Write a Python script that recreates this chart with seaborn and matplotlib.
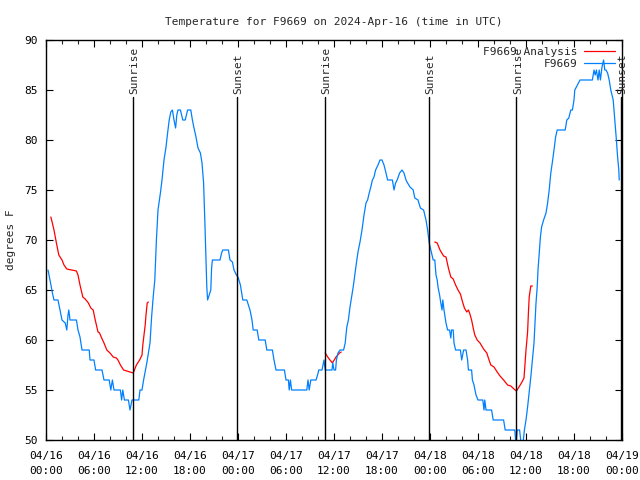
import pandas as pd
import matplotlib
matplotlib.use('Agg')
import matplotlib.pyplot as plt
import matplotlib.dates as mdates
from matplotlib.lines import Line2D
import seaborn as sns

start = pd.Timestamp('2024-04-16 00:00')

# observed temperature (hours since 04/16 00:00 UTC, degrees F)
obs_hours = [0.25, 0.5, 0.8, 1.0, 1.5, 1.75, 2.0, 2.4, 2.6, 2.75, 2.85, 3.0, 3.8, 4.0, 4.25, 4.5, 5.4, 5.5, 6.0, 6.2,
             7.0, 7.25, 7.9, 8.1, 8.3, 8.5, 9.3, 9.45, 9.6, 9.8, 10.3, 10.5, 10.75, 11.6, 11.75, 12.0, 12.2, 12.6, 13.0, 13.2,
             13.4, 13.6, 13.8, 14.0, 14.3, 14.5, 14.75, 15.0, 15.2, 15.4, 15.6, 15.8, 16.0, 16.2, 16.35, 16.5, 16.8, 17.1, 17.4, 17.7,
             18.1, 18.3, 18.5, 18.75, 19.0, 19.3, 19.5, 19.7, 19.85, 20.0, 20.1, 20.2, 20.4, 20.6, 20.7, 20.8, 21.75, 21.95, 22.1, 22.8,
             23.0, 23.3, 23.5, 23.8, 24.0, 24.3, 24.5, 24.6, 25.1, 25.3, 25.5, 25.75, 25.9, 26.4, 26.6, 27.4, 27.6, 28.3, 28.5, 28.75,
             29.8, 30.0, 30.3, 30.4, 30.55, 30.7, 32.6, 32.75, 32.9, 33.1, 33.75, 33.95, 34.1, 34.5, 34.75, 34.9, 35.75, 35.85, 36.0, 36.2,
             36.3, 36.5, 36.75, 37.2, 37.4, 37.6, 37.8, 38.0, 38.2, 38.4, 38.6, 38.8, 39.0, 39.25, 39.5, 39.75, 40.0, 40.2, 40.4, 40.6,
             40.8, 41.0, 41.2, 41.5, 41.75, 42.0, 42.25, 42.5, 42.7, 43.3, 43.5, 43.7, 43.9, 44.2, 44.5, 44.75, 45.0, 45.2, 45.5, 45.9,
             46.1, 46.5, 46.8, 47.2, 47.5, 47.7, 47.9, 48.2, 48.4, 48.6, 48.75, 48.9, 49.0, 49.2, 49.35, 49.5, 49.6, 49.75, 50.0, 50.2,
             50.45, 50.6, 50.7, 50.9, 51.0, 51.2, 51.8, 51.96, 52.2, 52.5, 52.7, 52.8, 53.2, 53.3, 53.5, 53.75, 54.0, 54.6, 54.75, 54.85,
             55.0, 55.7, 55.9, 57.2, 57.4, 58.6, 58.75, 58.9, 59.2, 59.4, 59.6, 59.8, 60.0, 60.2, 60.4, 60.6, 60.8, 61.0, 61.1, 61.25,
             61.4, 61.5, 61.65, 61.8, 61.95, 62.2, 62.5, 62.7, 62.9, 63.1, 63.3, 63.5, 63.7, 63.9, 64.9, 65.1, 65.35, 65.6, 65.8, 66.0,
             66.1, 66.75, 68.3, 68.5, 68.65, 68.8, 69.0, 69.15, 69.3, 69.5, 69.7, 69.85, 70.0, 70.2, 70.4, 70.6, 70.9, 71.1, 71.3, 71.45,
             71.6, 71.65]
obs_temps = [67, 66, 64.7, 64, 64, 63, 62, 61.7, 61, 62.5, 63, 62, 62, 61, 60.3, 59, 59, 58, 58, 57,
             57, 56, 56, 55, 56, 55, 55, 54, 55, 54, 54, 53, 54, 54, 55, 55, 56, 57.7, 59.7, 62.3,
             64.3, 66, 70, 73, 74.7, 76, 78, 79.3, 80.7, 82, 82.8, 83, 82, 81.2, 82.5, 83, 83, 82, 82, 83,
             83, 82, 81.2, 80.3, 79.2, 78.7, 77.7, 75.7, 72, 67.8, 65.3, 64, 64.5, 65, 67.2, 68, 68, 68.7, 69, 69,
             68, 67.8, 67, 66.5, 66.3, 65.5, 64.5, 64, 64, 63.5, 63, 62, 61, 61, 60, 60, 59, 59, 58, 57,
             57, 56, 56, 55, 56, 55, 55, 56, 55, 56, 56, 56.5, 57, 57, 58, 57, 57, 57.7, 57, 57,
             58, 58.7, 59, 59, 59.7, 61.3, 62, 63.3, 64.3, 65.3, 66.5, 67.7, 68.8, 69.8, 71, 72.5, 73.7, 74, 74.7, 75.3,
             76, 76.3, 77, 77.5, 78, 78, 77.5, 76.7, 76, 76, 75, 75.7, 76, 76.7, 77, 76.7, 76, 75.7, 75.3, 75,
             74.2, 74, 73.2, 73, 72, 71, 69.7, 68.7, 68, 68, 66.5, 66, 65.3, 64.5, 63.7, 63, 64, 63, 61.7, 61,
             61, 60.2, 61, 61, 59.7, 59, 59, 58, 59, 59, 58, 57, 57, 56, 55.5, 54.5, 54, 54, 53, 54,
             53, 53, 52, 52, 51, 51, 49.5, 51, 51, 49.5, 49.5, 51, 52, 53.3, 54.8, 56.3, 58, 59.7, 61.3, 63.7,
             65.3, 67, 68.7, 70.3, 71.3, 72, 72.7, 73.7, 75, 76.7, 77.8, 79, 80.3, 81, 81, 82, 82.2, 83, 83, 84,
             85, 86, 86, 87, 86.5, 87, 86, 87, 86, 87.3, 88, 87, 87, 86.7, 86, 85, 84, 82, 80, 78.3,
             77, 76]

# analysis series, three separate runs
ana1_hours = [0.6, 0.7, 1.0, 1.3, 1.6, 2.0, 2.25, 2.6, 3.2, 3.8, 4.0, 4.25, 4.6, 4.9, 5.3, 5.6, 5.9, 6.1, 6.3, 6.5,
              6.7, 6.9, 7.25, 7.6, 8.0, 8.4, 8.8, 9.0, 9.3, 9.7, 10.1, 10.5, 10.9, 11.3, 11.7, 12.0, 12.1, 12.25, 12.4, 12.5,
              12.65, 12.8]
ana1_temps = [72.3, 72, 71, 69.7, 68.5, 68, 67.5, 67.1, 67, 66.9, 66.5, 65.5, 64.3, 64.1, 63.7, 63.2, 63, 62.2, 61.5, 60.8,
              60.7, 60.3, 59.7, 59, 58.7, 58.3, 58.2, 58, 57.5, 57, 56.9, 56.8, 56.7, 57.5, 58, 58.5, 59.5, 60.5, 61.5, 62.5,
              63.7, 63.8]
ana2_hours = [34.9, 35.3, 35.8, 36.25, 36.7, 36.9]
ana2_temps = [58.7, 58.2, 57.7, 58.3, 58.7, 58.8]
ana3_hours = [48.6, 48.9, 49.25, 49.7, 50.0, 50.3, 50.6, 50.9, 51.2, 51.5, 51.8, 52.0, 52.3, 52.6, 52.8, 52.95, 53.2, 53.4, 53.6, 53.9,
              54.25, 54.7, 55.1, 55.3, 55.6, 56.0, 56.4, 56.75, 57.2, 57.7, 58.1, 58.5, 58.8, 59.2, 59.5, 59.75, 59.85, 60.0, 60.2, 60.3,
              60.4, 60.6, 60.8]
ana3_temps = [69.8, 69.7, 69, 68.4, 68.3, 67.2, 66.3, 66.1, 65.5, 65, 64.6, 64, 63.2, 62.8, 63, 62.7, 62, 61.2, 60.5, 60,
              59.7, 59.1, 58.7, 58.2, 57.5, 57.3, 56.8, 56.4, 56, 55.5, 55.4, 55.1, 54.9, 55.4, 55.8, 56.2, 57.3, 59, 60.8, 62.7,
              64.3, 65.4, 65.4]

sun_times = ['2024-04-16 10:52', '2024-04-16 23:52', '2024-04-17 10:52',
             '2024-04-17 23:52', '2024-04-18 10:48', '2024-04-18 23:52']
sun_labels = ['Sunrise', 'Sunset', 'Sunrise', 'Sunset', 'Sunrise', 'Sunset']

obs = pd.DataFrame({'time': start + pd.to_timedelta(obs_hours, unit='h'), 'temp': obs_temps})
ana = pd.concat([
    pd.DataFrame({'time': start + pd.to_timedelta(h, unit='h'), 'temp': t, 'seg': i})
    for i, (h, t) in enumerate([(ana1_hours, ana1_temps), (ana2_hours, ana2_temps), (ana3_hours, ana3_temps)])
])

sns.set_style('ticks')
plt.rcParams['font.family'] = ['DejaVu Sans Mono']
plt.rcParams['font.size'] = 8

red = '#ff0000'
blue = '#0080ff'

fig = plt.figure(figsize=(6.4, 4.8), dpi=100)
ax = fig.add_axes([46 / 640, 40 / 480, 576 / 640, 400 / 480])

sns.lineplot(data=ana, x='time', y='temp', units='seg', estimator=None, color=red, lw=0.9, ax=ax, legend=False)
sns.lineplot(data=obs, x='time', y='temp', color=blue, lw=0.9, ax=ax, legend=False)

for t, lab in zip(sun_times, sun_labels):
    ts = pd.Timestamp(t)
    ax.axvline(ts, ymin=0, ymax=(84.3 - 50) / 40, color='black', lw=1)
    ax.text(ts + pd.Timedelta(minutes=12), 84.6, lab, rotation=90, ha='center', va='bottom', fontsize=8)

ax.set_xlim(start, start + pd.Timedelta(hours=72))
ax.set_ylim(50, 90)
ax.set_yticks(range(50, 91, 5))
ax.xaxis.set_major_locator(mdates.HourLocator(byhour=[0, 6, 12, 18]))
ax.xaxis.set_minor_locator(mdates.HourLocator(interval=2))
ax.xaxis.set_major_formatter(mdates.DateFormatter('%m/%d\n%H:%M'))
ax.tick_params(which='major', direction='in', length=5, width=0.8, top=True, right=True, labelsize=8, pad=6, colors='black')
ax.tick_params(axis='x', which='major', pad=8)
ax.tick_params(which='minor', direction='in', length=3, width=0.8, top=True, right=False)
for s in ax.spines.values():
    s.set_color('black')
    s.set_linewidth(1)

ax.set_xlabel('')
ax.set_ylabel('degrees F', fontsize=8, labelpad=6)
ax.set_title('Temperature for F9669 on 2024-Apr-16 (time in UTC)', fontsize=8, pad=11)

handles = [Line2D([], [], color=red, lw=0.9), Line2D([], [], color=blue, lw=0.9)]
ax.legend(handles, ['F9669 Analysis', 'F9669'], loc='upper right', frameon=False, markerfirst=False,
          handlelength=2.8, handletextpad=0.6, labelspacing=0.2, borderaxespad=0.2, fontsize=8)

fig.canvas.draw()
plt.setp(ax.get_xticklabels(), linespacing=1.6)
fig.savefig('out.png', dpi=100)
